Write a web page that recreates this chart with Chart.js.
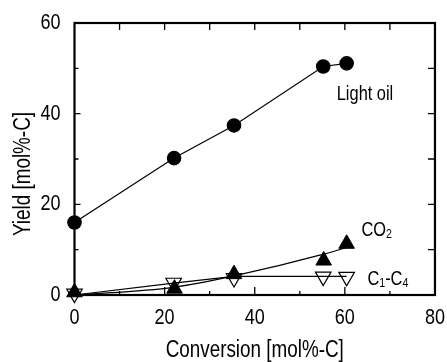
<!DOCTYPE html>
<html>
<head>
<meta charset="utf-8">
<script src="https://cdn.jsdelivr.net/npm/chart.js@4"></script>
<style>
  body { margin: 0; background: #fff; }
  #wrap { width: 447px; height: 362px; }
</style>
</head>
<body>
<div id="wrap"><canvas id="yieldChart" width="447" height="362"></canvas></div>
<script>
const FONT = '"Liberation Sans", Arial, sans-serif';
const SQUEEZE = 0.82; // original figure uses a narrow face

// Measured points
const oilX = [0, 22.1, 35.4, 55.2, 60.4];
const oilY = [16.0, 30.2, 37.4, 50.4, 51.1];

const co2X = [0, 22.2, 35.4, 55.3, 60.4];
const co2Y = [0.6, 1.4, 4.6, 7.6, 11.3];

const c14X = [0, 22.0, 35.4, 55.2, 60.4];
const c14Y = [0.3, 2.7, 3.75, 4.05, 4.0];

// Fitted curves drawn in the figure
const co2FitX = [0, 22, 35.4, 55.3, 60.4];
const co2FitY = [0, 1.7, 4.2, 9.0, 10.5];

const c14FitX = [0, 22, 35.4, 60.4];
const c14FitY = [0, 2.6, 4.1, 4.1];

const xTicks = [0, 20, 40, 60, 80];
const yTicks = [0, 20, 40, 60];

const pts = (xs, ys) => xs.map((x, i) => ({ x: x, y: ys[i] }));

// condensed text: squeeze every string horizontally around its anchor
const canvas = document.getElementById('yieldChart');
const c2d = canvas.getContext('2d');
const rawFill = c2d.fillText.bind(c2d);
const rawMeasure = c2d.measureText.bind(c2d);
c2d.fillText = function (t, x, y) {
  this.save();
  this.translate(x, y);
  this.scale(SQUEEZE, 1);
  rawFill(t, 0, 0);
  this.restore();
};
c2d.measureText = function (t) {
  const m = rawMeasure(t);
  return {
    width: m.width * SQUEEZE,
    actualBoundingBoxAscent: m.actualBoundingBoxAscent,
    actualBoundingBoxDescent: m.actualBoundingBoxDescent,
    actualBoundingBoxLeft: m.actualBoundingBoxLeft * SQUEEZE,
    actualBoundingBoxRight: m.actualBoundingBoxRight * SQUEEZE
  };
};

// frame + inward ticks like the original plot
const framePlugin = {
  id: 'frame',
  afterDatasetsDraw(chart) {
    const { ctx, chartArea: a, scales: { x, y } } = chart;
    ctx.save();
    ctx.strokeStyle = '#000';
    ctx.lineWidth = 1.3;
    ctx.beginPath();
    for (let v = 10; v < 80; v += 10) {
      const px = x.getPixelForValue(v);
      const len = v % 20 === 0 ? 8 : 4;
      ctx.moveTo(px, a.bottom);
      ctx.lineTo(px, a.bottom - len);
      ctx.moveTo(px, a.top);
      ctx.lineTo(px, a.top + 7);
    }
    for (let v = 10; v < 60; v += 10) {
      const py = y.getPixelForValue(v);
      ctx.moveTo(a.right, py);
      ctx.lineTo(a.right - 7, py);
      ctx.moveTo(a.left, py);
      ctx.lineTo(a.left + (v % 20 === 0 ? 6 : 4), py);
    }
    ctx.stroke();
    ctx.lineWidth = 2.2;
    ctx.strokeRect(a.left, a.top, a.right - a.left, a.bottom - a.top);

    ctx.fillStyle = '#000';

    // y axis title, a bit below the middle of the axis as in the figure
    ctx.save();
    ctx.font = '23px ' + FONT;
    ctx.textAlign = 'center';
    ctx.textBaseline = 'middle';
    ctx.translate(24, (a.top + a.bottom) / 2 + 15);
    ctx.rotate(-Math.PI / 2);
    ctx.fillText('Yield [mol%-C]', 0, 0);
    ctx.restore();

    // series labels
    ctx.textBaseline = 'alphabetic';
    ctx.textAlign = 'left';
    const big = '20px ' + FONT, small = '13px ' + FONT;
    const put = (parts, vx, vy) => {
      let px = x.getPixelForValue(vx);
      const py = y.getPixelForValue(vy);
      parts.forEach(([t, sub]) => {
        ctx.font = sub ? small : big;
        ctx.fillText(t, px, py + (sub ? 2 : 0));
        px += ctx.measureText(t).width;
      });
    };
    put([['Light oil', false]], 58.2, 43.0);
    put([['CO', false], ['2', true]], 63.7, 13.1);
    put([['C', false], ['1', true], ['-C', false], ['4', true]], 65.0, 2.2);
    ctx.restore();
  }
};

new Chart(canvas, {
  type: 'scatter',
  data: {
    datasets: [
      {
        data: pts(co2FitX, co2FitY), showLine: true, pointRadius: 0,
        borderColor: '#000', borderWidth: 1.2, cubicInterpolationMode: 'monotone', tension: 0.4
      },
      {
        data: pts(c14FitX, c14FitY), showLine: true, pointRadius: 0,
        borderColor: '#000', borderWidth: 1.2
      },
      {
        data: pts(oilX, oilY), showLine: true, borderColor: '#000', borderWidth: 1.2,
        pointStyle: 'circle', pointRadius: 6.7, pointBackgroundColor: '#000', pointBorderColor: '#000'
      },
      {
        data: pts(co2X, co2Y), showLine: false,
        pointStyle: 'triangle', pointRadius: 9, pointBackgroundColor: '#000',
        pointBorderColor: '#000', pointBorderWidth: 1
      },
      {
        data: pts(c14X, c14Y), showLine: false,
        pointStyle: 'triangle', rotation: 180, pointRotation: 180, pointRadius: 9,
        pointBackgroundColor: '#fff', pointBorderColor: '#000', pointBorderWidth: 1.2
      }
    ]
  },
  options: {
    responsive: false,
    animation: false,
    clip: false,
    layout: { padding: { top: 23, right: 10, left: 0, bottom: 0 } },
    plugins: { legend: { display: false }, tooltip: { enabled: false } },
    scales: {
      x: {
        type: 'linear', min: 0, max: 80,
        afterFit: s => { s.height = 67; },
        afterBuildTicks: s => { s.ticks = xTicks.map(v => ({ value: v })); },
        grid: { display: false },
        border: { display: false },
        ticks: { color: '#000', padding: 2, font: { family: FONT, size: 22 } },
        title: {
          display: true, text: 'Conversion [mol%-C]', color: '#000', padding: 0,
          font: { family: FONT, size: 23, lineHeight: 1.0 }
        }
      },
      y: {
        type: 'linear', min: 0, max: 60,
        afterFit: s => { s.width = 74.5; },
        afterBuildTicks: s => { s.ticks = yTicks.map(v => ({ value: v })); },
        grid: { display: false },
        border: { display: false },
        ticks: { color: '#000', padding: 6, font: { family: FONT, size: 22 } }
      }
    }
  },
  plugins: [framePlugin]
});
</script>
</body>
</html>
